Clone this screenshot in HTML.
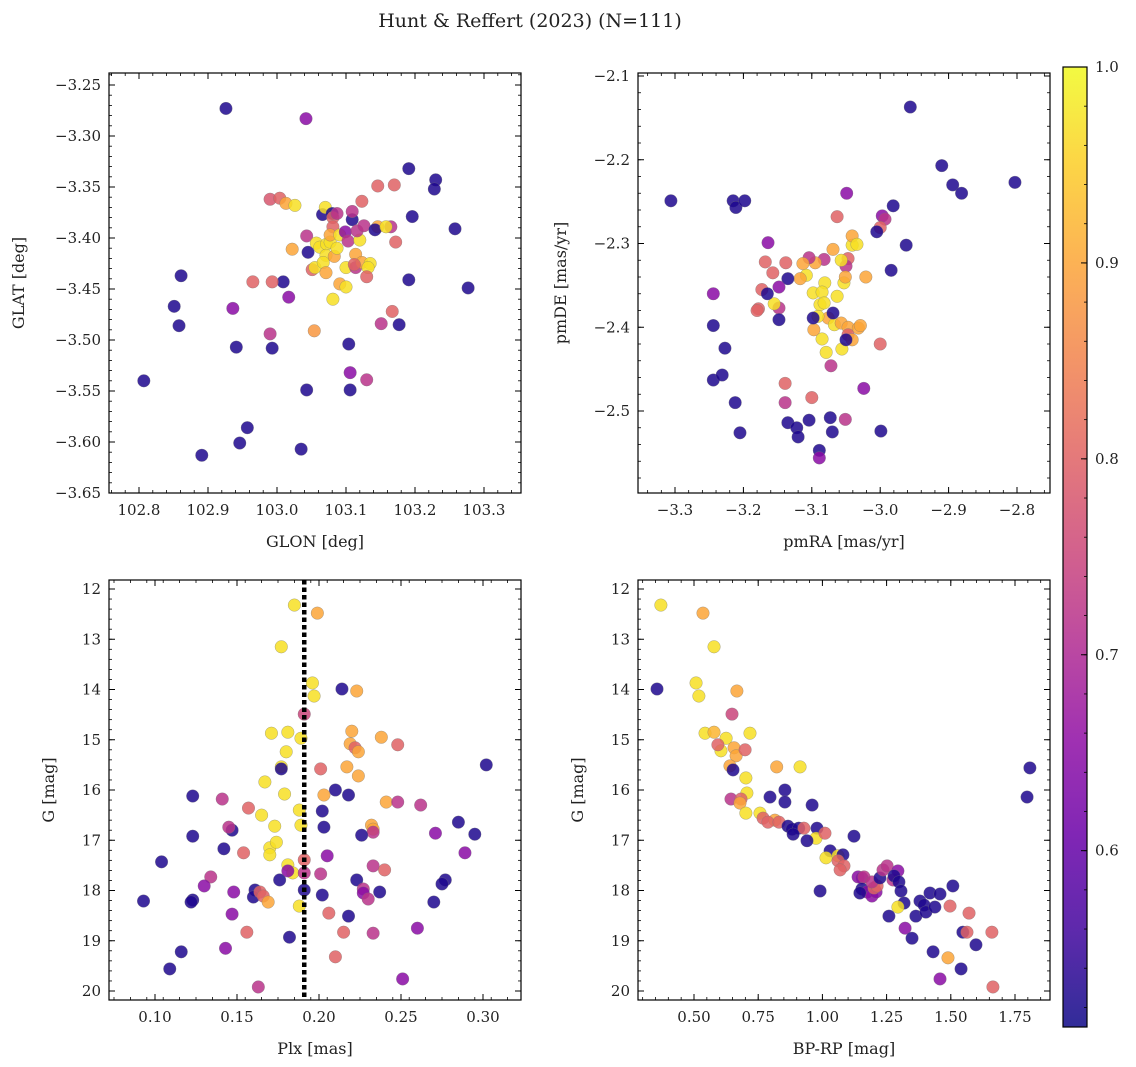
<!DOCTYPE html>
<html><head><meta charset="utf-8"><style>
html,body{margin:0;padding:0;background:#fff;}
svg{display:block;font-family:"DejaVu Serif","Liberation Serif",serif;}
</style></head><body>
<svg id="fig" width="1136" height="1067" viewBox="0 0 1136 1067">
<text x="530" y="27" text-anchor="middle" font-size="19" fill="#222">Hunt &amp; Reffert (2023) (N=111)</text>
</svg>
<script>
// ---- Panel 1 data: GLON / GLAT ----
const glon = [102.926,103.042,102.807,102.891,102.957,102.946,103.035,102.861,102.851,102.858,102.941,102.936,102.990,102.993,103.043,103.104,103.106,103.106,103.130,102.965,103.009,102.993,103.017,102.990,103.004,103.013,103.026,103.022,103.043,103.051,103.055,103.045,103.054,103.066,103.070,103.080,103.081,103.087,103.057,103.062,103.072,103.077,103.071,103.067,103.071,103.083,103.081,103.077,103.091,103.087,103.099,103.081,103.091,103.100,103.100,103.103,103.109,103.109,103.114,103.120,103.114,103.123,103.112,103.116,103.126,103.135,103.132,103.123,103.146,103.146,103.142,103.130,103.165,103.158,103.170,103.167,103.177,103.151,103.191,103.196,103.191,103.172,103.230,103.228,103.258,103.277];
const glat = [-3.273,-3.283,-3.540,-3.613,-3.586,-3.601,-3.607,-3.437,-3.467,-3.486,-3.507,-3.469,-3.494,-3.508,-3.549,-3.504,-3.549,-3.532,-3.539,-3.443,-3.443,-3.443,-3.458,-3.362,-3.361,-3.366,-3.368,-3.411,-3.398,-3.431,-3.429,-3.414,-3.491,-3.377,-3.370,-3.376,-3.380,-3.376,-3.405,-3.409,-3.406,-3.404,-3.417,-3.424,-3.434,-3.418,-3.389,-3.397,-3.397,-3.410,-3.394,-3.460,-3.445,-3.448,-3.429,-3.403,-3.382,-3.374,-3.416,-3.402,-3.429,-3.424,-3.426,-3.393,-3.388,-3.425,-3.429,-3.364,-3.349,-3.389,-3.392,-3.438,-3.389,-3.389,-3.348,-3.472,-3.485,-3.484,-3.332,-3.379,-3.441,-3.404,-3.343,-3.352,-3.391,-3.449];
const prob1 = [0.525,0.65,0.525,0.525,0.525,0.525,0.525,0.525,0.525,0.525,0.525,0.65,0.72,0.525,0.525,0.525,0.525,0.65,0.72,0.8,0.525,0.8,0.65,0.78,0.8,0.9,0.97,0.9,0.72,0.8,0.97,0.525,0.88,0.525,0.97,0.525,0.8,0.72,0.97,0.97,0.97,0.97,0.97,0.97,0.9,0.9,0.8,0.9,0.97,0.97,0.65,0.97,0.9,0.97,0.97,0.72,0.525,0.72,0.9,0.97,0.72,0.9,0.8,0.72,0.72,0.97,0.97,0.8,0.8,0.9,0.525,0.8,0.72,0.97,0.8,0.8,0.525,0.72,0.525,0.525,0.525,0.8,0.525,0.525,0.525,0.525];
// ---- Panel 2 data: pmRA / pmDE ----
const pmra = [-3.306,-2.956,-2.910,-2.803,-2.894,-2.881,-2.962,-2.981,-2.997,-2.993,-3.000,-3.005,-2.984,-3.049,-3.063,-3.021,-3.041,-3.041,-3.047,-3.034,-3.050,-3.057,-3.053,-3.063,-3.051,-3.081,-3.069,-3.082,-3.095,-3.104,-3.113,-3.108,-3.117,-3.098,-3.088,-3.085,-3.082,-3.076,-3.091,-3.067,-3.057,-3.047,-3.032,-3.047,-3.041,-3.056,-3.079,-3.085,-3.097,-3.098,-3.069,-3.029,-3.050,-3.072,-3.135,-3.138,-3.157,-3.168,-3.164,-3.148,-3.173,-3.178,-3.180,-3.148,-3.148,-3.155,-3.165,-3.215,-3.211,-3.198,-3.244,-3.244,-3.244,-3.231,-3.227,-3.212,-3.205,-3.139,-3.139,-3.135,-3.122,-3.120,-3.104,-3.100,-3.089,-3.089,-3.073,-3.070,-3.051,-3.024,-2.999,-3.000];
const pmde = [-2.249,-2.137,-2.207,-2.227,-2.230,-2.240,-2.302,-2.255,-2.267,-2.271,-2.281,-2.286,-2.332,-2.240,-2.268,-2.340,-2.302,-2.291,-2.318,-2.301,-2.327,-2.320,-2.347,-2.363,-2.340,-2.347,-2.307,-2.319,-2.323,-2.317,-2.324,-2.338,-2.342,-2.359,-2.373,-2.358,-2.371,-2.389,-2.387,-2.397,-2.395,-2.400,-2.401,-2.409,-2.415,-2.426,-2.430,-2.414,-2.403,-2.389,-2.383,-2.398,-2.415,-2.446,-2.342,-2.323,-2.335,-2.322,-2.299,-2.377,-2.355,-2.378,-2.380,-2.352,-2.391,-2.372,-2.360,-2.249,-2.257,-2.249,-2.360,-2.398,-2.463,-2.457,-2.425,-2.490,-2.526,-2.467,-2.490,-2.514,-2.520,-2.531,-2.511,-2.484,-2.547,-2.556,-2.508,-2.525,-2.510,-2.473,-2.524,-2.420];
const prob2 = [0.525,0.525,0.525,0.525,0.525,0.525,0.525,0.525,0.65,0.72,0.8,0.525,0.525,0.65,0.8,0.9,0.97,0.9,0.8,0.97,0.72,0.97,0.97,0.97,0.9,0.97,0.9,0.72,0.9,0.72,0.9,0.97,0.9,0.97,0.97,0.97,0.97,0.9,0.97,0.97,0.9,0.9,0.9,0.8,0.9,0.97,0.97,0.97,0.9,0.525,0.525,0.9,0.525,0.72,0.525,0.8,0.8,0.8,0.65,0.72,0.8,0.8,0.8,0.65,0.525,0.97,0.525,0.525,0.525,0.525,0.65,0.525,0.525,0.525,0.525,0.525,0.525,0.8,0.72,0.525,0.525,0.525,0.525,0.8,0.525,0.65,0.525,0.525,0.72,0.65,0.525,0.8];
// ---- Panel 3 data: Plx / G ----
const plx = [0.185,0.199,0.177,0.196,0.197,0.214,0.223,0.191,0.171,0.181,0.189,0.220,0.180,0.219,0.222,0.224,0.238,0.248,0.302,0.217,0.177,0.177,0.201,0.224,0.167,0.210,0.218,0.203,0.179,0.123,0.141,0.165,0.241,0.248,0.262,0.157,0.188,0.202,0.173,0.189,0.147,0.145,0.203,0.232,0.233,0.233,0.226,0.123,0.271,0.285,0.295,0.104,0.154,0.170,0.174,0.142,0.170,0.289,0.134,0.181,0.191,0.205,0.184,0.201,0.176,0.233,0.240,0.223,0.181,0.191,0.277,0.275,0.130,0.123,0.122,0.093,0.148,0.161,0.160,0.164,0.166,0.169,0.191,0.202,0.188,0.237,0.227,0.227,0.230,0.270,0.206,0.218,0.147,0.156,0.215,0.233,0.260,0.182,0.143,0.116,0.210,0.109,0.251,0.163];
const gmag3 = [12.32,12.48,13.15,13.87,14.13,13.99,14.03,14.49,14.87,14.85,14.97,14.83,15.24,15.08,15.16,15.24,14.95,15.10,15.50,15.54,15.54,15.58,15.58,15.72,15.84,16.00,16.10,16.10,16.08,16.12,16.18,16.50,16.24,16.24,16.30,16.36,16.40,16.42,16.72,16.70,16.80,16.74,16.74,16.70,16.78,16.84,16.90,16.92,16.86,16.64,16.88,17.43,17.25,17.15,17.04,17.17,17.29,17.25,17.73,17.49,17.39,17.31,17.65,17.67,17.79,17.51,17.59,17.79,17.61,17.65,17.79,17.87,17.91,18.19,18.23,18.21,18.03,17.99,18.13,18.03,18.11,18.23,17.99,18.09,18.31,18.03,17.97,18.05,18.17,18.23,18.45,18.51,18.47,18.83,18.83,18.85,18.75,18.93,19.15,19.22,19.32,19.56,19.76,19.92];
const prob3 = [0.97,0.9,0.97,0.97,0.97,0.525,0.9,0.75,0.97,0.97,0.97,0.9,0.97,0.9,0.8,0.9,0.9,0.8,0.525,0.9,0.97,0.525,0.8,0.9,0.97,0.525,0.525,0.9,0.97,0.525,0.72,0.97,0.9,0.72,0.72,0.8,0.97,0.525,0.97,0.97,0.525,0.72,0.525,0.9,0.9,0.72,0.525,0.525,0.65,0.525,0.525,0.525,0.8,0.97,0.97,0.525,0.97,0.65,0.72,0.97,0.8,0.65,0.97,0.72,0.525,0.72,0.8,0.525,0.65,0.72,0.525,0.525,0.65,0.525,0.525,0.525,0.65,0.525,0.525,0.8,0.8,0.9,0.525,0.525,0.97,0.525,0.72,0.65,0.72,0.525,0.8,0.525,0.65,0.8,0.8,0.72,0.65,0.525,0.65,0.525,0.8,0.525,0.65,0.72];
// ---- Panel 4 data: BP-RP / G ----
const bprp = [0.371,0.535,0.578,0.508,0.519,0.356,0.667,0.648,0.543,0.578,0.625,0.605,0.593,0.656,0.718,0.664,0.699,0.640,0.652,0.913,0.822,0.702,1.808,1.797,0.796,0.854,0.706,0.644,0.683,0.679,0.960,0.854,0.702,0.757,0.769,0.815,0.788,0.831,0.866,0.882,0.908,0.928,0.979,0.975,1.010,0.886,0.940,1.030,1.014,1.061,1.080,1.061,1.084,0.991,1.123,1.069,1.139,1.154,1.162,1.154,1.174,1.146,1.193,1.209,1.201,1.213,1.193,1.224,1.236,1.252,1.275,1.294,1.279,1.298,1.306,1.318,1.294,1.259,1.322,1.349,1.364,1.380,1.396,1.419,1.458,1.403,1.438,1.497,1.508,1.571,1.547,1.563,1.598,1.540,1.660,1.664,1.489,1.458,1.431];
const gmag4 = [12.32,12.48,13.15,13.87,14.13,13.99,14.03,14.49,14.87,14.85,14.97,15.22,15.10,15.16,14.87,15.32,15.20,15.52,15.60,15.54,15.54,15.76,15.56,16.14,16.14,16.00,16.06,16.18,16.18,16.26,16.30,16.24,16.46,16.46,16.56,16.60,16.64,16.64,16.72,16.78,16.76,16.76,16.76,16.96,16.86,16.88,17.01,17.21,17.35,17.31,17.29,17.41,17.51,18.01,16.92,17.59,17.73,17.75,17.73,17.97,18.03,18.05,18.11,18.03,17.95,17.91,17.83,17.75,17.59,17.51,17.79,17.61,17.71,17.83,18.01,18.25,18.33,18.51,18.75,18.95,18.51,18.21,18.29,18.05,18.07,18.43,18.33,18.31,17.91,18.45,18.83,18.83,19.08,19.56,18.83,19.92,19.34,19.76,19.22];
const prob4 = [0.97,0.9,0.97,0.97,0.97,0.525,0.9,0.75,0.97,0.92,0.97,0.97,0.8,0.9,0.97,0.9,0.8,0.9,0.525,0.97,0.9,0.97,0.525,0.525,0.525,0.525,0.97,0.72,0.8,0.9,0.525,0.525,0.97,0.97,0.8,0.9,0.8,0.8,0.525,0.525,0.525,0.8,0.525,0.97,0.8,0.525,0.525,0.525,0.97,0.97,0.525,0.8,0.8,0.525,0.525,0.8,0.65,0.65,0.72,0.525,0.65,0.525,0.65,0.65,0.8,0.8,0.72,0.525,0.72,0.72,0.72,0.65,0.525,0.525,0.525,0.525,0.97,0.525,0.65,0.525,0.525,0.525,0.525,0.525,0.525,0.525,0.525,0.8,0.525,0.8,0.525,0.8,0.525,0.525,0.8,0.8,0.9,0.65,0.525];
const plxLine = 0.191;
const cMin = 0.51, cMax = 1.0;
const cbTicks = [0.6,0.7,0.8,0.9,1.0];

const NS = "http://www.w3.org/2000/svg";
const svg = document.getElementById('fig');
const plasma = ["#0d0887","#41049d","#6a00a8","#8f0da4","#b12a90","#cc4778","#e16462","#f2844b","#fca636","#fcce25","#f0f921"];
function hex(h){return [1,3,5].map(i=>parseInt(h.substr(i,2),16));}
function cmap(v){
  let t=(v-cMin)/(cMax-cMin); t=Math.max(0,Math.min(1,t))*10;
  const i=Math.min(9,Math.floor(t)), f=t-i;
  const a=hex(plasma[i]), b=hex(plasma[i+1]);
  return 'rgb('+a.map((c,k)=>Math.round(c+(b[k]-c)*f)).join(',')+')';
}
function mk(tag,attrs,parent){const e=document.createElementNS(NS,tag);for(const k in attrs)e.setAttribute(k,attrs[k]);(parent||svg).appendChild(e);return e;}

function panel(cfg){
  const g=mk('g',{});
  
  
  const {x0,x1,y0,y1}=cfg;
  const sx=v=>x0+(v-cfg.xd[0])/(cfg.xd[1]-cfg.xd[0])*(x1-x0);
  const sy=cfg.invert? v=>y0+(v-cfg.yd[0])/(cfg.yd[1]-cfg.yd[0])*(y1-y0)
                     : v=>y1-(v-cfg.yd[0])/(cfg.yd[1]-cfg.yd[0])*(y1-y0);
  const clip='clip-'+cfg.name;
  const cp=mk('clipPath',{id:clip},g); mk('rect',{x:x0,y:y0,width:x1-x0,height:y1-y0},cp);
  const pts=mk('g',{'clip-path':'url(#'+clip+')'},g);
  
  
  for(let i=0;i<cfg.xs.length;i++){
    const c=mk('circle',{cx:sx(cfg.xs[i]),cy:sy(cfg.ys[i]),r:6.3,fill:cmap(cfg.ps[i]),'fill-opacity':0.85,stroke:'#777','stroke-width':0.5,'stroke-opacity':0.6},pts);
    
    
  }
  if(cfg.vline!==undefined){
    const l=mk('line',{x1:sx(cfg.vline),x2:sx(cfg.vline),y1:y0,y2:y1,stroke:'#000','stroke-width':4.5,'stroke-dasharray':'4.5,3'},g);
    
    
  }
  const frame=mk('rect',{x:x0,y:y0,width:x1-x0,height:y1-y0,fill:'none',stroke:'#000','stroke-width':1.2},g);
  
  
  const eps=1e-9;
  for(let v=cfg.xmin[0];v<=cfg.xd[1]+eps;v+=cfg.xmin[1]){const x=sx(v);if(x<x0-0.5||x>x1+0.5)continue;
    mk('line',{x1:x,x2:x,y1:y1,y2:y1-3,stroke:'#000','stroke-width':0.8},g);mk('line',{x1:x,x2:x,y1:y0,y2:y0+3,stroke:'#000','stroke-width':0.8},g);}
  for(let v=cfg.ymin[0];v<=Math.max(...cfg.yd)+eps;v+=cfg.ymin[1]){const y=sy(v);if(y<y0-0.5||y>y1+0.5)continue;
    mk('line',{x1:x0,x2:x0+3,y1:y,y2:y,stroke:'#000','stroke-width':0.8},g);mk('line',{x1:x1,x2:x1-3,y1:y,y2:y,stroke:'#000','stroke-width':0.8},g);}
  cfg.xt.forEach(v=>{const x=sx(v);
    mk('line',{x1:x,x2:x,y1:y1,y2:y1-6,stroke:'#000','stroke-width':1},g);mk('line',{x1:x,x2:x,y1:y0,y2:y0+6,stroke:'#000','stroke-width':1},g);
    const t=mk('text',{x:x,y:y1+22,'text-anchor':'middle','font-size':15,fill:'#222'},g);t.textContent=cfg.xf(v);
    
    });
  cfg.yt.forEach(v=>{const y=sy(v);
    mk('line',{x1:x0,x2:x0+6,y1:y,y2:y,stroke:'#000','stroke-width':1},g);mk('line',{x1:x1,x2:x1-6,y1:y,y2:y,stroke:'#000','stroke-width':1},g);
    const t=mk('text',{x:x0-8,y:y+5,'text-anchor':'end','font-size':15,fill:'#222'},g);t.textContent=cfg.yf(v);
    
    });
  const xl=mk('text',{x:(x0+x1)/2,y:y1+54,'text-anchor':'middle','font-size':16,fill:'#222'},g);xl.textContent=cfg.xl;
  
  
  const yx=cfg.ylx, yy=(y0+y1)/2;
  const yl=mk('text',{x:yx,y:yy,'text-anchor':'middle','font-size':16,fill:'#222',transform:'rotate(-90 '+yx+' '+yy+')'},g);yl.textContent=cfg.yl;
  
  
}
const neg=s=>s.replace('-','\u2212');
panel({name:'glon-glat-panel',x0:109,x1:521,y0:73,y1:493,xd:[102.8-30/690,102.8+382/690],yd:[-3.65,-3.25+12/1020],
  xs:glon,ys:glat,ps:prob1,xt:[102.8,102.9,103.0,103.1,103.2,103.3],xmin:[102.74,0.02],yt:[-3.65,-3.6,-3.55,-3.5,-3.45,-3.4,-3.35,-3.3,-3.25],ymin:[-3.65,0.01],
  xf:v=>v.toFixed(1),yf:v=>neg(v.toFixed(2)),xl:'GLON [deg]',yl:'GLAT [deg]',ylx:24});
panel({name:'pm-panel',x0:638,x1:1050,y0:73,y1:493,xd:[-3.3-37/684,-3.3+375/684],yd:[-2.1-417/837.5,-2.1+3/837.5],
  xs:pmra,ys:pmde,ps:prob2,xt:[-3.3,-3.2,-3.1,-3.0,-2.9,-2.8],xmin:[-3.36,0.02],yt:[-2.5,-2.4,-2.3,-2.2,-2.1],ymin:[-2.6,0.02],
  xf:v=>neg(v.toFixed(1)),yf:v=>neg(v.toFixed(1)),xl:'pmRA [mas/yr]',yl:'pmDE [mas/yr]',ylx:566});
panel({name:'plx-g-panel',x0:109,x1:521,y0:580,y1:1000,xd:[0.1-46/1640,0.1+366/1640],yd:[12-9/50.25,12+411/50.25],invert:true,
  xs:plx,ys:gmag3,ps:prob3,vline:plxLine,xt:[0.1,0.15,0.2,0.25,0.3],xmin:[0.075,0.01],yt:[12,13,14,15,16,17,18,19,20],ymin:[11.8,0.2],
  xf:v=>v.toFixed(2),yf:v=>v.toFixed(0),xl:'Plx [mas]',yl:'G [mag]',ylx:54});
panel({name:'cmd-panel',x0:638,x1:1050,y0:580,y1:1000,xd:[0.5-56/256.8,0.5+356/256.8],yd:[12-9/50.25,12+411/50.25],invert:true,
  xs:bprp,ys:gmag4,ps:prob4,xt:[0.5,0.75,1.0,1.25,1.5,1.75],xmin:[0.3,0.05],yt:[12,13,14,15,16,17,18,19,20],ymin:[11.8,0.2],
  xf:v=>v.toFixed(2),yf:v=>v.toFixed(0),xl:'BP-RP [mag]',yl:'G [mag]',ylx:583});

(function(){
  const cx0=1063,cx1=1087,cy0=67,cy1=1027;
  const g=mk('g',{});
  
  
  const defs=mk('defs',{},g);
  const lg=mk('linearGradient',{id:'cbg',x1:0,y1:1,x2:0,y2:0},defs);
  for(let i=0;i<=20;i++){mk('stop',{offset:(i/20),'stop-color':cmap(cMin+(cMax-cMin)*i/20)},lg);}
  mk('rect',{x:cx0,y:cy0,width:cx1-cx0,height:cy1-cy0,fill:'url(#cbg)','fill-opacity':0.85},g);
  mk('rect',{x:cx0,y:cy0,width:cx1-cx0,height:cy1-cy0,fill:'none',stroke:'#000','stroke-width':1.2},g);
  const sy=v=>cy1-(v-cMin)/(cMax-cMin)*(cy1-cy0);
  for(let v=0.52;v<=1.0001;v+=0.02){mk('line',{x1:cx1,x2:cx1-3,y1:sy(v),y2:sy(v),stroke:'#000','stroke-width':0.8},g);}
  cbTicks.forEach(v=>{const y=sy(v);
    mk('line',{x1:cx1,x2:cx1-6,y1:y,y2:y,stroke:'#000','stroke-width':1},g);
    const t=mk('text',{x:cx1+8,y:y+5,'font-size':15,fill:'#222'},g);t.textContent=v.toFixed(1);
    
    });
})();
</script>
</body></html>
